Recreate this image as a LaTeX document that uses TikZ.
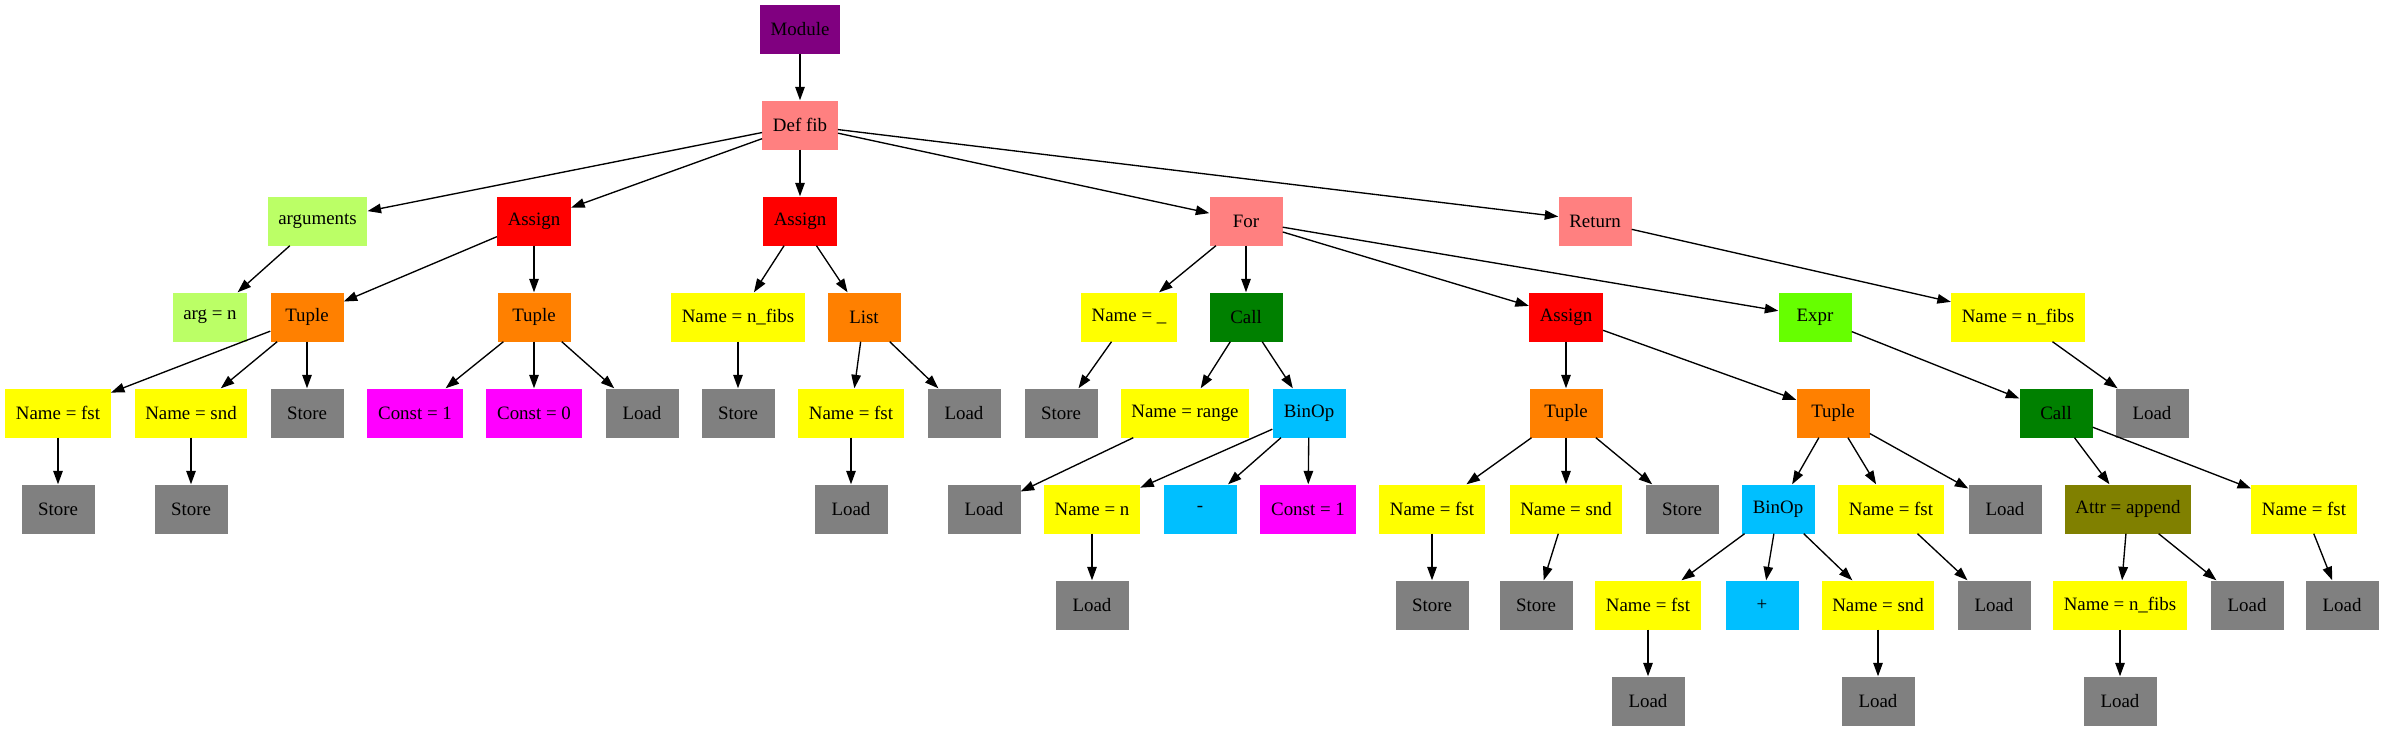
\documentclass[tikz,border=0pt]{standalone}
\usepackage{fontspec}
\setmainfont{Liberation Serif}
\newfontfamily\boxfont{Liberation Serif}
\usetikzlibrary{arrows.meta}
\definecolor{cpurple}{HTML}{800080}
\definecolor{ccoral}{HTML}{FF8080}
\definecolor{clgreen}{HTML}{BBFF66}
\definecolor{cred}{HTML}{FF0000}
\definecolor{corange}{HTML}{FF8000}
\definecolor{cyellow}{HTML}{FFFF00}
\definecolor{cgray}{HTML}{808080}
\definecolor{cmagenta}{HTML}{FF00FF}
\definecolor{cgreen}{HTML}{008000}
\definecolor{cblue}{HTML}{00BFFF}
\definecolor{cchart}{HTML}{66FF00}
\definecolor{colive}{HTML}{808000}
\tikzset{
  box/.style={rectangle, minimum width=73pt, minimum height=49pt, inner xsep=10.7pt, inner ysep=0pt,
    font=\boxfont\fontsize{18.9}{22}\selectfont, text=black},
  Pmod/.style={box, fill=cpurple},
  Pcor/.style={box, fill=ccoral},
  Plg/.style={box, fill=clgreen},
  Pred/.style={box, fill=cred},
  Pora/.style={box, fill=corange},
  Pyel/.style={box, fill=cyellow},
  Pgry/.style={box, fill=cgray},
  Pmag/.style={box, fill=cmagenta},
  Pgrn/.style={box, fill=cgreen},
  Pblu/.style={box, fill=cblue},
  Pcha/.style={box, fill=cchart},
  Poli/.style={box, fill=colive},
  edge/.style={draw=black, line width=1.35pt, -{Triangle[length=13.5pt, width=9.5pt]}}
}
\begin{document}
\begin{tikzpicture}[x=1pt, y=-1pt]
\useasboundingbox (0,0) rectangle (2385,731);
% row 0,1
\node[Pmod] (m) at (800,29) {Module};
\node[Pcor] (def) at (800,125) {Def fib};
% row 2
\node[Plg] (args) at (317.5,221) {arguments};
\node[Pred] (as1) at (534,221) {Assign};
\node[Pred] (as2) at (800,221) {Assign};
\node[Pcor] (for) at (1246,221) {For};
\node[Pcor] (ret) at (1595,221) {Return};
% row 3
\node[Plg] (argn) at (210,317) {arg = n};
\node[Pora] (tu1) at (307,317) {Tuple};
\node[Pora] (tu2) at (534,317) {Tuple};
\node[Pyel] (nf1) at (738,317) {Name = n\_fibs};
\node[Pora] (list) at (864,317) {List};
\node[Pyel] (nu) at (1129,317) {Name = \_};
\node[Pgrn] (call1) at (1246,317) {Call};
\node[Pred] (as3) at (1566,317) {Assign};
\node[Pcha] (expr) at (1815,317) {Expr};
\node[Pyel] (nf2) at (2018,317) {Name = n\_fibs};
% row 4
\node[Pyel] (fst1) at (58,413) {Name = fst};
\node[Pyel] (snd1) at (191,413) {Name = snd};
\node[Pgry] (st1) at (307,413) {Store};
\node[Pmag] (c1) at (415,413) {Const = 1};
\node[Pmag] (c0) at (534,413) {Const = 0};
\node[Pgry] (ld1) at (642,413) {Load};
\node[Pgry] (st2) at (738,413) {Store};
\node[Pyel] (fst2) at (851,413) {Name = fst};
\node[Pgry] (ld2) at (964,413) {Load};
\node[Pgry] (st3) at (1061,413) {Store};
\node[Pyel] (rng) at (1185,413) {Name = range};
\node[Pblu] (bo1) at (1309,413) {BinOp};
\node[Pora] (tu3) at (1566,413) {Tuple};
\node[Pora] (tu4) at (1833,413) {Tuple};
\node[Pgrn] (call2) at (2056,413) {Call};
\node[Pgry] (ld3) at (2152,413) {Load};
% row 5
\node[Pgry] (st4) at (58,509) {Store};
\node[Pgry] (st5) at (191,509) {Store};
\node[Pgry] (ld4) at (851,509) {Load};
\node[Pgry] (ld5) at (984,509) {Load};
\node[Pyel] (nn) at (1092,509) {Name = n};
\node[Pblu] (minus) at (1200,509) {-};
\node[Pmag] (c1b) at (1308,509) {Const = 1};
\node[Pyel] (fst3) at (1432,509) {Name = fst};
\node[Pyel] (snd2) at (1566,509) {Name = snd};
\node[Pgry] (st6) at (1682,509) {Store};
\node[Pblu] (bo2) at (1778,509) {BinOp};
\node[Pyel] (fst4) at (1891,509) {Name = fst};
\node[Pgry] (ld6) at (2005,509) {Load};
\node[Poli] (attr) at (2128,509) {Attr = append};
\node[Pyel] (fst5) at (2304,509) {Name = fst};
% row 6
\node[Pgry] (ld7) at (1092,605) {Load};
\node[Pgry] (st7) at (1432,605) {Store};
\node[Pgry] (st8) at (1536,605) {Store};
\node[Pyel] (fst6) at (1648,605) {Name = fst};
\node[Pblu] (plus) at (1762,605) {+};
\node[Pyel] (snd3) at (1878,605) {Name = snd};
\node[Pgry] (ld8) at (1994,605) {Load};
\node[Pyel] (nf3) at (2120,605) {Name = n\_fibs};
\node[Pgry] (ld9) at (2247,605) {Load};
\node[Pgry] (ld10) at (2342,605) {Load};
% row 7
\node[Pgry] (ld11) at (1648,701) {Load};
\node[Pgry] (ld12) at (1878,701) {Load};
\node[Pgry] (ld13) at (2120,701) {Load};
% edges
\foreach \a/\b in {m/def, def/args, def/as1, def/as2, def/for, def/ret,
  args/argn, as1/tu1, as1/tu2, tu1/fst1, tu1/snd1, tu1/st1, fst1/st4, snd1/st5,
  tu2/c1, tu2/c0, tu2/ld1, as2/nf1, as2/list, nf1/st2, list/fst2, list/ld2, fst2/ld4,
  for/nu, for/call1, for/as3, for/expr, nu/st3, call1/rng, call1/bo1, rng/ld5,
  bo1/nn, bo1/minus, bo1/c1b, nn/ld7, as3/tu3, as3/tu4, tu3/fst3, tu3/snd2, tu3/st6,
  fst3/st7, snd2/st8, tu4/bo2, tu4/fst4, tu4/ld6, bo2/fst6, bo2/plus, bo2/snd3,
  fst6/ld11, snd3/ld12, fst4/ld8, expr/call2, call2/attr, call2/fst5, attr/nf3, attr/ld9,
  nf3/ld13, fst5/ld10, ret/nf2, nf2/ld3}
  \draw[edge] (\a) -- (\b);
\end{tikzpicture}
\end{document}
